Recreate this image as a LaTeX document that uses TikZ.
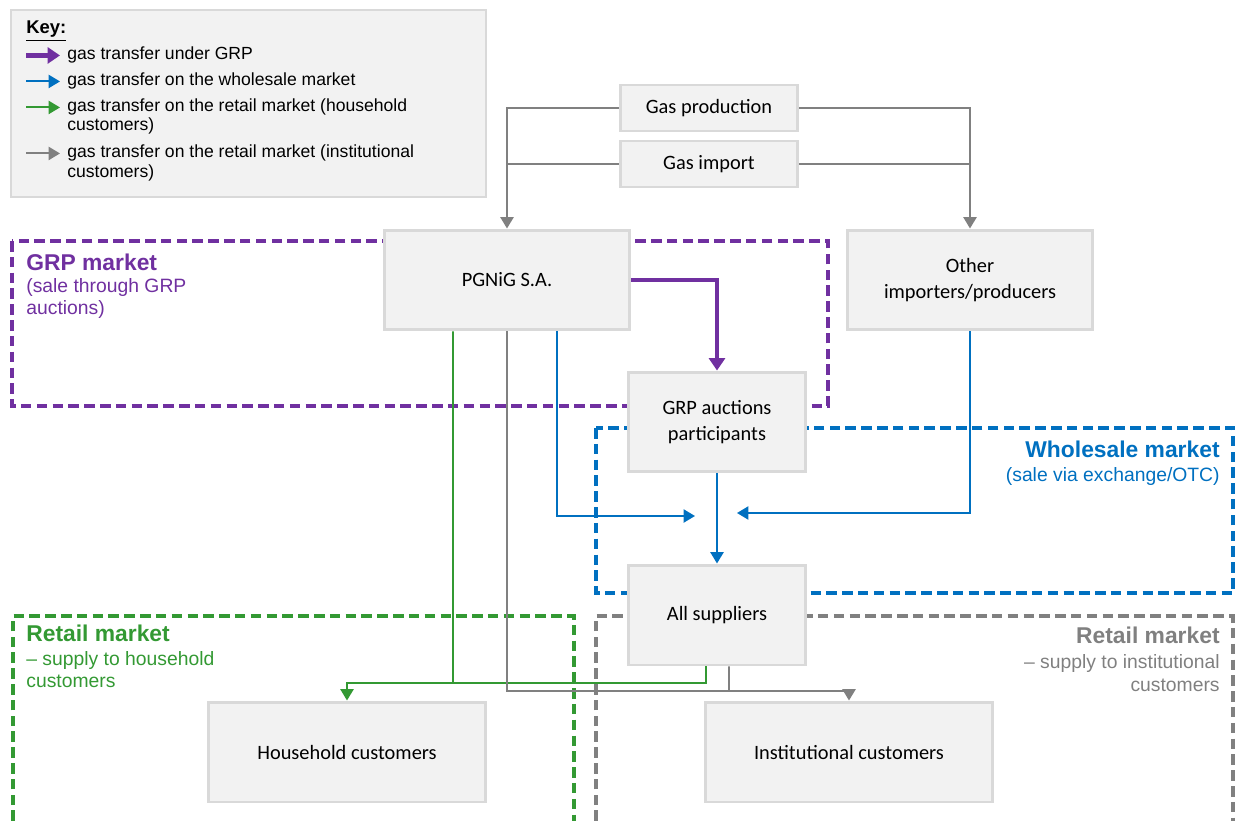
\documentclass[tikz,border=0pt]{standalone}
\usepackage{fontspec}
\setmainfont{Liberation Sans}
\newfontfamily\boxfont{Carlito}
\usetikzlibrary{arrows.meta}
\definecolor{grpcol}{HTML}{7030A0}
\definecolor{wscol}{HTML}{0070C0}
\definecolor{hhcol}{HTML}{339933}
\definecolor{incol}{HTML}{808080}
\definecolor{boxfill}{HTML}{F2F2F2}
\definecolor{boxline}{HTML}{D9D9D9}

\begin{document}
\begin{tikzpicture}[x=0.02cm, y=-0.02cm,
    box/.style={draw=boxline, line width=1.7pt, fill=boxfill, align=center,
      inner sep=2pt, font=\boxfont\fontsize{11.6}{14.5}\selectfont},
    region/.style={line width=2.3pt, dash pattern=on 6pt off 3pt},
    link/.style={line width=1.1pt},
    flow/.style={line width=1.1pt, -{Triangle[width=7.5pt,length=6.5pt]}},
    grpflow/.style={line width=2.8pt, grpcol, -{Triangle[width=9pt,length=7pt]}},
    title/.style={anchor=base west, inner sep=0pt, font=\bfseries\fontsize{13}{15}\selectfont},
    sub/.style={anchor=base west, inner sep=0pt, font=\fontsize{11}{13}\selectfont},
    keytext/.style={anchor=base west, inner sep=0pt, font=\fontsize{10}{12}\selectfont}]
  \useasboundingbox (0,0) rectangle (1235,821);

  % Key
  \draw[boxline, fill=boxfill, line width=0.6pt] (11,10) rectangle (486,197);
  \node[keytext, font=\bfseries\fontsize{10.5}{12}\selectfont] (keyhead) at (26,34) {\underline{Key:}};
  \node[keytext] (k1) at (67,60) {gas transfer under GRP};
  \node[keytext] (k2) at (67,86) {gas transfer on the wholesale market};
  \node[keytext] (k3) at (67,112) {gas transfer on the retail market (household};
  \node[keytext] (k3b) at (67,131) {customers)};
  \node[keytext] (k4) at (67,158) {gas transfer on the retail market (institutional};
  \node[keytext] (k4b) at (67,177) {customers)};
  \draw[grpflow] ([xshift=-0.82cm]k1.west) -- ([xshift=-0.14cm]k1.west);
  \draw[flow, wscol] ([xshift=-0.82cm]k2.west) -- ([xshift=-0.14cm]k2.west);
  \draw[flow, hhcol] ([xshift=-0.82cm]k3.west) -- ([xshift=-0.14cm]k3.west);
  \draw[flow, incol] ([xshift=-0.82cm]k4.west) -- ([xshift=-0.14cm]k4.west);

  % Markets
  \draw[region, grpcol] (12,241) rectangle (828,406);
  \draw[region, wscol] (596,428) rectangle (1233,593);
  \draw[region, hhcol] (13,821) -- (13,616) -- (574,616) -- (574,821);
  \draw[region, incol] (596,821) -- (596,616) -- (1233,616) -- (1233,821);

  \node[title, grpcol] (grptitle) at (26,271) {GRP market};
  \node[sub, grpcol] at (26,293) {(sale through GRP};
  \node[sub, grpcol] at (26,315) {auctions)};
  \node[title, wscol, anchor=base east] (wstitle) at (1220,457) {Wholesale market};
  \node[sub, wscol, anchor=base east] at (1220,481) {(sale via exchange/OTC)};
  \node[title, hhcol] (hhtitle) at (26,641) {Retail market};
  \node[sub, hhcol] at (26,665) {-- supply to household};
  \node[sub, hhcol] at (26,687) {customers};
  \node[title, incol, anchor=base east] (intitle) at (1220,643) {Retail market};
  \node[sub, incol, anchor=base east] at (1220,668) {-- supply to institutional};
  \node[sub, incol, anchor=base east] at (1220,691) {customers};

  % Boxes
  \node[box, minimum width=3.56cm, minimum height=0.92cm] (prod) at (709,108) {Gas production};
  \node[box, minimum width=3.56cm, minimum height=0.92cm] (imp) at (709,164) {Gas import};
  \node[box, minimum width=4.9cm, minimum height=2cm] (pgnig) at (507,280) {PGNiG S.A.};
  \node[box, minimum width=4.9cm, minimum height=2cm] (other) at (970,280) {Other\\importers/producers};
  \node[box, minimum width=3.56cm, minimum height=2cm] (grp) at (717,422) {GRP auctions\\participants};
  \node[box, minimum width=3.56cm, minimum height=2cm] (suppliers) at (717,615) {All suppliers};
  \node[box, minimum width=5.56cm, minimum height=2cm] (household) at (347,752) {Household customers};
  \node[box, minimum width=5.74cm, minimum height=2cm] (institutional) at (849,752) {Institutional customers};

  \coordinate (wsleft) at (695,516);
  \coordinate (wsright) at (737,513);
  \coordinate (hhjoin) at (453,683);
  \coordinate (injoin) at (729,691);

  % Production and import
  \draw[flow, incol] (prod.west) -| (pgnig.north);
  \draw[link, incol] (imp.west) -- (imp.west -| pgnig.north);
  \draw[flow, incol] (prod.east) -| (other.north);
  \draw[link, incol] (imp.east) -- (imp.east -| other.north);

  % GRP
  \draw[grpflow] (pgnig.east) -| (grp.north);

  % Wholesale
  \draw[flow, wscol] ([xshift=1cm]pgnig.south) |- (wsleft);
  \draw[flow, wscol] (other.south) |- (wsright);
  \draw[flow, wscol] (grp.south) -- (suppliers.north);

  % Retail
  \draw[flow, hhcol] ([xshift=-1.08cm]pgnig.south) -- (hhjoin) -| (household.north);
  \draw[link, hhcol] ([xshift=-0.22cm]suppliers.south) |- (hhjoin);
  \draw[flow, incol] (pgnig.south) |- (injoin) -| (institutional.north);
  \draw[link, incol] ([xshift=0.24cm]suppliers.south) -- (injoin);
\end{tikzpicture}
\end{document}
